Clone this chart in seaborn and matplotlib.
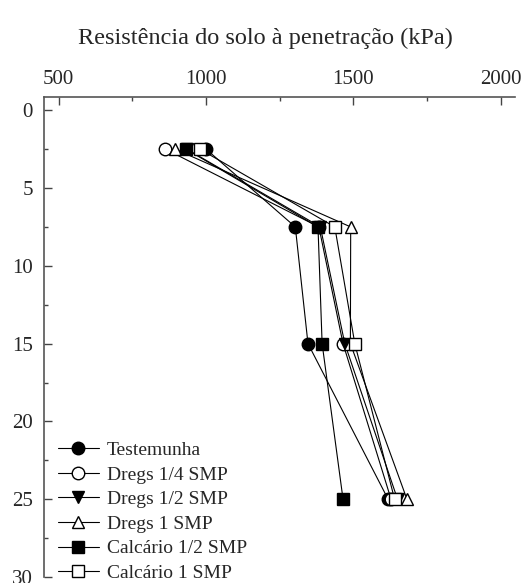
import pandas as pd
import matplotlib.pyplot as plt
import seaborn as sns

sns.set_theme(style="white")
plt.rcParams['font.family'] = ['Liberation Serif', 'DejaVu Serif']

# profundidade (cm) e resistencia (kPa) por tratamento
depth = [2.5, 7.5, 15, 25]
testemunha = [1000, 1303, 1346, 1618]
dregs_14 = [862, 1383, 1465, 1628]
dregs_12 = [935, 1388, 1471, 1650]
dregs_1 = [895, 1491, 1490, 1682]
calc_12 = [932, 1380, 1394, 1465]
calc_1 = [979, 1437, 1505, 1640]

series = [
    ('Testemunha', testemunha, 'o', 'black'),
    ('Dregs 1/4 SMP', dregs_14, 'o', 'white'),
    ('Dregs 1/2 SMP', dregs_12, 'v', 'black'),
    ('Dregs 1 SMP', dregs_1, '^', 'white'),
    ('Calcário 1/2 SMP', calc_12, 's', 'black'),
    ('Calcário 1 SMP', calc_1, 's', 'white'),
]

fig = plt.figure(figsize=(5.31, 5.83), dpi=100)
ax = fig.add_axes([0.083, 0.0103, 0.8875, 0.8233])

for name, vals, mk, fc in series:
    df = pd.DataFrame({'kPa': vals, 'depth': depth})
    sns.lineplot(data=df, x='kPa', y='depth', sort=False, estimator=None,
                 color='black', linewidth=0.8, marker=mk, markersize=9,
                 markerfacecolor=fc, markeredgecolor='black', markeredgewidth=1,
                 label=name, ax=ax)

ax.set_xlim(450, 2050)
ax.set_ylim(30, -0.85)
ax.set_xticks([500, 1000, 1500, 2000])
ax.set_xticks([750, 1250, 1750], minor=True)
ax.set_yticks([0, 5, 10, 15, 20, 25, 30])
ax.set_yticks([2.5, 7.5, 12.5, 17.5, 22.5, 27.5], minor=True)
ax.xaxis.tick_top()
ax.set_xlabel('')
ax.set_ylabel('')
ax.tick_params(axis='both', which='major', direction='in', length=6, width=1,
               labelsize=15, pad=6, color='#444444')
ax.tick_params(axis='y', which='major', pad=8)
ax.tick_params(axis='both', which='minor', direction='in', length=3, width=1,
               color='#444444')
ax.tick_params(axis='x', which='both', top=True, bottom=False)
ax.tick_params(axis='y', which='both', left=True, right=False)

for side in ['right', 'bottom']:
    ax.spines[side].set_visible(False)
for side in ['left', 'top']:
    ax.spines[side].set_color('#555555')
    ax.spines[side].set_linewidth(1.2)

fig.text(0.5, 1 - 38 / 583, 'Resistência do solo à penetração (kPa)',
         ha='center', va='center', fontsize=17.5)

ax.legend(loc='lower left', bbox_to_anchor=(58 / 531, 1 / 583),
          bbox_transform=fig.transFigure, frameon=False, borderpad=0,
          borderaxespad=0, fontsize=14, handlelength=2.1, handletextpad=0.4,
          labelspacing=0.36)

plt.savefig('out.png', dpi=100)
